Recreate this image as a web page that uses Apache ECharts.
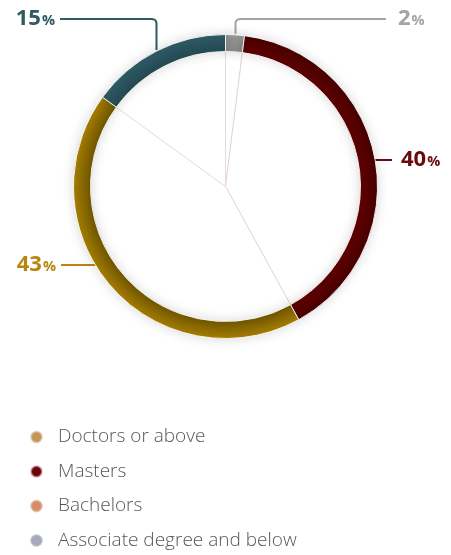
<!DOCTYPE html>
<html>
<head>
<meta charset="utf-8">
<script src="https://cdn.jsdelivr.net/npm/echarts@6/dist/echarts.min.js"></script>
<style>
  html, body { margin: 0; padding: 0; background: #fff; }
  #chart { width: 451px; height: 555px; }
</style>
</head>
<body>
<div id="chart"></div>
<script>
// Education level breakdown, drawn clockwise from 12 o'clock
const categories = ['Associate degree and below', 'Masters', 'Bachelors', 'Doctors or above'];
const shares = [2, 40, 43, 15];
const legendOrder = ['Doctors or above', 'Masters', 'Bachelors', 'Associate degree and below'];

// Styling
const ringColors = {
  'Associate degree and below': ['#8a8a8a', '#8f8f8f', '#9a9a9a'],
  'Masters': ['#5e0000', '#550000', '#470000'],
  'Bachelors': ['#6f5500', '#8a6a00', '#a67d00'],
  'Doctors or above': ['#244a53', '#2a525c', '#2f5a64']
};
const labelColors = {
  'Associate degree and below': '#a3a3a3',
  'Masters': '#6a0b0b',
  'Bachelors': '#b8860f',
  'Doctors or above': '#2f5a63'
};
const spokeColors = {
  'Associate degree and below': 'rgba(170,185,195,0.5)',
  'Masters': 'rgba(220,170,180,0.6)',
  'Bachelors': 'rgba(215,185,160,0.6)',
  'Doctors or above': 'rgba(215,200,175,0.6)'
};
const legendColors = {
  'Doctors or above': '#c39655',
  'Masters': '#6a0508',
  'Bachelors': '#d98c6c',
  'Associate degree and below': '#a9a7ba'
};

const cx = 225.5, cy = 186.5;
const R0 = 135, R1 = 152;

const total = shares.reduce((a, b) => a + b, 0);
function midPoint(i) {
  let acc = 0;
  for (let k = 0; k < i; k++) acc += shares[k];
  const a = ((acc + shares[i] / 2) / total) * Math.PI * 2; // clockwise from top
  return [cx + R1 * Math.sin(a), cy - R1 * Math.cos(a)];
}
// polyline p0 -> pc -> p1 with a rounded corner at pc
function rounded(p0, pc, p1, r) {
  const d0 = Math.hypot(p0[0] - pc[0], p0[1] - pc[1]);
  const d1 = Math.hypot(p1[0] - pc[0], p1[1] - pc[1]);
  const A = [pc[0] + (p0[0] - pc[0]) / d0 * r, pc[1] + (p0[1] - pc[1]) / d0 * r];
  const B = [pc[0] + (p1[0] - pc[0]) / d1 * r, pc[1] + (p1[1] - pc[1]) / d1 * r];
  const pts = [p0, A];
  const n = 6;
  for (let s = 1; s < n; s++) {
    const t = s / n;
    pts.push([
      (1 - t) * (1 - t) * A[0] + 2 * (1 - t) * t * pc[0] + t * t * B[0],
      (1 - t) * (1 - t) * A[1] + 2 * (1 - t) * t * pc[1] + t * t * B[1]
    ]);
  }
  pts.push(B, p1);
  return pts;
}

const topY = cy - R1 - 15.5;
function labelPlacement(i) {
  const name = categories[i];
  if (name === 'Associate degree and below') {
    const s = midPoint(i);
    const x = Math.round(s[0]) + 0.5;
    return { x: 398, y: topY, align: 'left',
      pts: rounded([x, s[1] - 1], [x, topY], [386, topY], 5) };
  }
  if (name === 'Masters') {
    const s = midPoint(i);
    const y = s[1] + 2;
    return { x: 401, y: y, align: 'left', pts: [[cx + Math.sqrt(R1 * R1 - (y - cy) * (y - cy)) - 2, y], [392, y]] };
  }
  if (name === 'Bachelors') {
    const y = 265;
    return { x: 56, y: y, align: 'right', pts: [[cx - Math.sqrt(R1 * R1 - (y - cy) * (y - cy)) + 3, y], [61, y]] };
  }
  const s = midPoint(i);
  const x = Math.round(s[0]) + 0.5;
  return { x: 55, y: topY, align: 'right',
    pts: rounded([x, s[1] - 1], [x, topY], [60, topY], 5) };
}

function ringGradient(name) {
  const c = ringColors[name];
  return {
    type: 'radial', x: cx, y: cy, r: R1, global: true,
    colorStops: [
      { offset: 0, color: c[0] },
      { offset: R0 / R1, color: c[0] },
      { offset: (R0 + R1) / 2 / R1, color: c[1] },
      { offset: 1, color: c[2] }
    ]
  };
}

const chart = echarts.init(document.getElementById('chart'), null, { renderer: 'canvas' });

const ringData = categories.map((name, i) => ({
  name: name,
  value: shares[i],
  itemStyle: { color: ringGradient(name) },
  label: {
    rich: {
      n: { fontSize: 22, fontWeight: 'bold', color: labelColors[name], fontFamily: 'Open Sans' },
      p: { fontSize: 14.5, fontWeight: 'bold', color: labelColors[name], fontFamily: 'Open Sans', padding: [4, 0, 0, 1] }
    }
  },
  labelLine: { lineStyle: { color: labelColors[name], width: 2 } }
}));

const spokeData = categories.map((name, i) => ({
  name: name,
  value: shares[i],
  itemStyle: { color: '#ffffff', borderColor: spokeColors[name], borderWidth: 0.8 }
}));

chart.setOption({
  backgroundColor: '#ffffff',
  animation: false,
  legend: {
    orient: 'vertical',
    left: 30,
    top: 426,
    padding: 0,
    icon: 'circle',
    itemWidth: 11,
    itemHeight: 11,
    itemGap: 12.5,
    selectedMode: false,
    textStyle: {
      fontFamily: 'Open Sans',
      fontWeight: 300,
      fontSize: 19,
      lineHeight: 22,
      color: '#575757',
      padding: [0, 0, 0, 11]
    },
    data: legendOrder.map(n => ({ name: n, itemStyle: { color: legendColors[n] } }))
  },
  series: [
    {
      type: 'pie',
      name: 'spokes',
      center: [cx, cy],
      radius: [0, R0],
      startAngle: 90,
      clockwise: true,
      silent: true,
      label: { show: false },
      labelLine: { show: false },
      data: spokeData,
      z: 1
    },
    {
      type: 'pie',
      name: 'share',
      center: [cx, cy],
      radius: [R0, R1],
      startAngle: 90,
      clockwise: true,
      avoidLabelOverlap: false,
      itemStyle: {
        borderColor: 'rgba(255,255,255,0.85)',
        borderWidth: 1,
        shadowBlur: 12,
        shadowColor: 'rgba(0,0,0,0.15)'
      },
      label: {
        show: true,
        position: 'outside',
        formatter: p => '{n|' + p.value + '}{p|%}'
      },
      labelLine: { show: true, length: 10, length2: 10 },
      labelLayout: function (params) {
        const pl = labelPlacement(params.dataIndex);
        return {
          x: pl.x,
          y: pl.y,
          align: pl.align,
          verticalAlign: 'middle',
          labelLinePoints: pl.pts
        };
      },
      data: ringData,
      z: 2
    }
  ]
});
</script>
</body>
</html>
